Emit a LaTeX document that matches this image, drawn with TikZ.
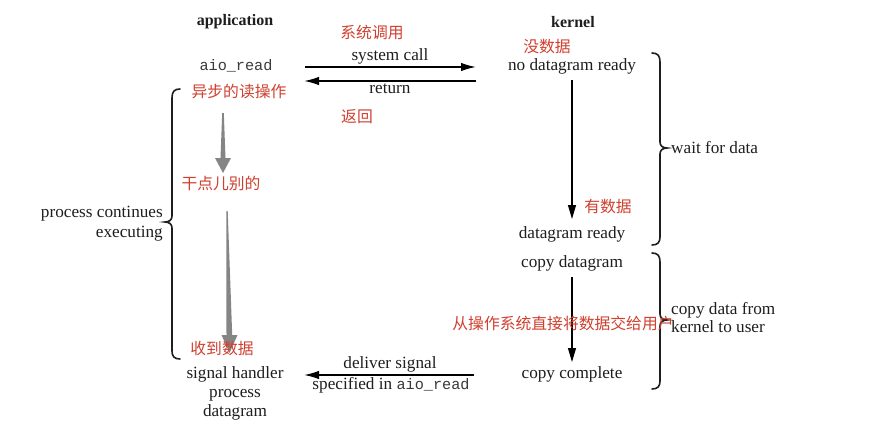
\documentclass[tikz,border=0pt]{standalone}
\usepackage{fontspec}
\setmainfont{Liberation Serif}
\setmonofont{Liberation Mono}
\newfontfamily\cjk{Noto Sans CJK SC}
\usetikzlibrary{arrows.meta}
\definecolor{txt}{HTML}{1E1E1E}
\definecolor{monotxt}{HTML}{3A3A3A}
\definecolor{cnred}{HTML}{D0402F}
\definecolor{garrow}{HTML}{858585}
\tikzset{
  lbl/.style={inner sep=0pt, text=txt, font=\fontsize{17.2}{19}\selectfont, align=center},
  hdr/.style={lbl, font=\fontsize{16}{18}\selectfont\bfseries},
  cn/.style={inner sep=0pt, text=cnred, font=\fontsize{15.8}{17}\selectfont\cjk},
  hline/.style={line width=1.6pt, draw=black, -{Latex[length=15pt,width=8.5pt]}},
  vline/.style={line width=1.1pt, draw=black, -{Triangle[length=14pt,width=8pt]}},
  bracepath/.style={line width=1.6pt, draw=txt, line cap=round},
  thick gray/.style={fill=garrow, draw=none}
}
\begin{document}
\begin{tikzpicture}[x=1pt,y=-1pt]
\useasboundingbox[fill=white] (0,0) rectangle (889,436);

% headers
\node[hdr] (app) at (235,22) {application};
\node[hdr] (ker) at (573,22) {kernel};

% application column
\node[lbl, text=monotxt, font=\fontsize{15.2}{17}\selectfont\ttfamily] (aio) at (236,66) {aio\_read};
\node[lbl, align=center, font=\fontsize{17.2}{19}\selectfont] (sig) at (235,393) {signal handler\\process\\datagram};

% kernel column
\node[lbl] (nodg) at (572,66) {no datagram ready};
\node[lbl] (dgr) at (572,234) {datagram ready};
\node[lbl] (cpd) at (572,263) {copy datagram};
\node[lbl] (cpc) at (572,374) {copy complete};

% labels of arrows
\node[lbl] (sc) at (390,56) {system call};
\node[lbl] (ret) at (390,89) {return};
\node[lbl] (dsig) at (390,364) {deliver signal};
\node[lbl] (spec) at (391,385) {specified in {\color{monotxt}\fontsize{15.2}{17}\selectfont\ttfamily aio\_read}};

% brace labels
\node[lbl, anchor=west] (wfd) at (671,148) {wait for data};
\node[lbl, anchor=west, align=left, font=\fontsize{17.2}{18}\selectfont] (cdk) at (671,318) {copy data from\\kernel to user};
\node[lbl, anchor=east, align=right, font=\fontsize{17.2}{20}\selectfont] (pce) at (163,224) {process continues\\executing};

% horizontal arrows
\coordinate (scA) at (305,67);
\coordinate (scB) at (476,67);
\coordinate (rtA) at (476,81);
\coordinate (rtB) at (304,81);
\coordinate (dsA) at (474,375);
\coordinate (dsB) at (304,375);
\draw[hline] (scA) -- (scB);
\draw[hline] (rtA) -- (rtB);
\draw[hline] (dsA) -- (dsB);

% kernel vertical arrows
\coordinate (k1A) at (572,80);
\coordinate (k1B) at (572,219);
\coordinate (k2A) at (572,277);
\coordinate (k2B) at (572,362);
\draw[vline] (k1A) -- (k1B);
\draw[vline] (k2A) -- (k2B);

% right braces
\draw[bracepath] (652,53) .. controls (658,53) and (660,56) .. (660,62)
  -- (660,142) .. controls (660,146) and (663,148) .. (667,148)
  .. controls (663,148) and (660,150) .. (660,154)
  -- (660,237) .. controls (660,242) and (658,245) .. (652,245);
\draw[bracepath] (652,253) .. controls (658,253) and (660,256) .. (660,262)
  -- (660,314) .. controls (660,318) and (663,320) .. (667,320)
  .. controls (663,320) and (660,322) .. (660,326)
  -- (660,381) .. controls (660,386) and (658,389) .. (652,389);

% left brace
\draw[bracepath] (180,89) .. controls (174,89) and (172,92) .. (172,98)
  -- (172,216) .. controls (172,220) and (169,222) .. (165,222)
  .. controls (169,222) and (172,224) .. (172,228)
  -- (172,351) .. controls (172,356) and (174,359) .. (180,359);

% gray thick arrows
\fill[thick gray] (222.2,113) -- (223.8,113) -- (225.5,158) -- (231,158) -- (223,173) -- (215,158) -- (220.5,158) -- cycle;
\fill[thick gray] (226.3,211) -- (227.7,211) -- (232.2,335) -- (237.5,335) -- (229.5,353) -- (221.5,335) -- (226.5,335) -- cycle;

% Chinese annotations
\node[cn] (c1) at (372,33) {系统调用};
\node[cn] (c2) at (547,47) {没数据};
\node[cn] (c3) at (239,92) {异步的读操作};
\node[cn] (c4) at (357,117) {返回};
\node[cn] (c5) at (221,183) {干点儿别的};
\node[cn] (c6) at (608,207) {有数据};
\node[cn] (c7) at (563,323) {从操作系统直接将数据交给用户};
\node[cn] (c8) at (222,349) {收到数据};
\end{tikzpicture}
\end{document}
